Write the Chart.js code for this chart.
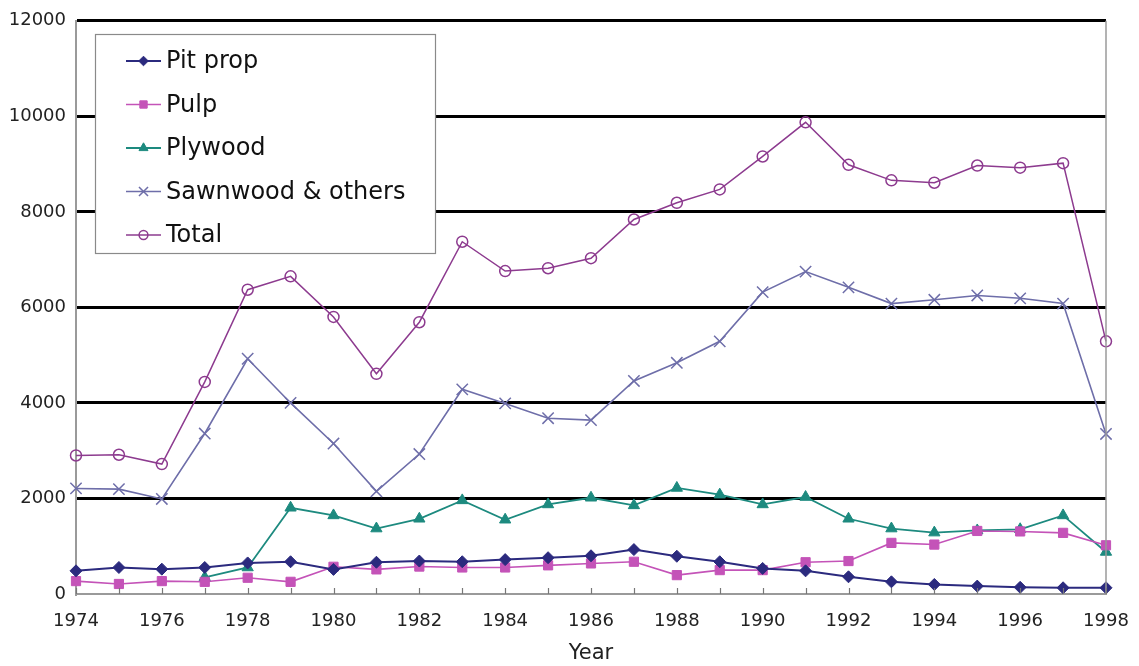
<!DOCTYPE html>
<html>
<head>
<meta charset="utf-8">
<script src="https://cdn.jsdelivr.net/npm/chart.js@4/dist/chart.umd.min.js"></script>
<style>
  html, body { margin: 0; padding: 0; background: #ffffff; }
  #wrap { width: 1139px; height: 666px; position: relative; }
</style>
</head>
<body>
<div id="wrap"><canvas id="c" width="1139" height="666"></canvas></div>
<script>
// Log output by product, 1974-1998
const years = ['1974','1975','1976','1977','1978','1979','1980','1981','1982','1983','1984','1985',
  '1986','1987','1988','1989','1990','1991','1992','1993','1994','1995','1996','1997','1998'];

const pitProp  = [485, 555, 520, 555, 650, 675, 515, 665, 690, 675, 720, 760,
  800, 930, 790, 675, 535, 485, 360, 255, 200, 165, 140, 130, 130];
const pulp     = [270, 210, 270, 255, 340, 255, 570, 515, 575, 555, 555, 600,
  640, 675, 395, 500, 500, 665, 690, 1070, 1035, 1320, 1310, 1280, 1020];
const plywood  = [null, null, null, 350, 555, 1805, 1645, 1370, 1575, 1960, 1555, 1875,
  2015, 1855, 2220, 2080, 1875, 2030, 1575, 1370, 1285, 1330, 1355, 1645, 880];
const sawnwood = [2210, 2195, 1990, 3360, 4925, 4000, 3150, 2150, 2930, 4285, 3990, 3680,
  3640, 4460, 4840, 5290, 6320, 6750, 6420, 6080, 6160, 6250, 6190, 6080, 3350];
const total    = [2900, 2915, 2720, 4440, 6370, 6650, 5800, 4610, 5690, 7375, 6760, 6820,
  7030, 7840, 8190, 8470, 9160, 9875, 8985, 8660, 8610, 8970, 8925, 9020, 5290];

const seriesNames = ['Pit prop', 'Pulp', 'Plywood', 'Sawnwood & others', 'Total'];
const yTicks = [0, 2000, 4000, 6000, 8000, 10000, 12000];

const FONT = '"DejaVu Sans", "Liberation Sans", sans-serif';
const TEXT = '#222222';
const AXIS = '#9a9a9a';

function series(label, data, color, style, radius, filled, width) {
  return {
    label, data,
    borderColor: color,
    backgroundColor: filled ? color : '#ffffff',
    borderWidth: width,
    pointStyle: style,
    pointRadius: radius,
    pointBorderWidth: filled ? 1 : 1.5,
    pointBorderColor: color,
    pointBackgroundColor: filled ? color : 'rgba(0,0,0,0)',
    pointHoverRadius: radius,
    tension: 0,
    spanGaps: false,
    fill: false
  };
}

const datasets = [
  series(seriesNames[0], pitProp,  '#2b2a7e', 'rectRot',  6, true, 2),
  series(seriesNames[1], pulp,     '#c453b8', 'rect',     6.5, true, 1.6),
  series(seriesNames[2], plywood,  '#1d8a7f', 'triangle', 6.5, true, 1.8),
  series(seriesNames[3], sawnwood, '#6e6ea9', 'crossRot', 8, false, 1.6),
  series(seriesNames[4], total,    '#8d3b8f', 'circle',   5.5, false, 1.5)
];

// Boxed legend inside the plot, plus year tick marks and the right frame edge
const decorations = {
  id: 'decorations',
  afterDatasetsDraw(chart) {
    const ctx = chart.ctx;
    const area = chart.chartArea;
    const xs = chart.scales.x;

    ctx.save();
    // right frame edge
    ctx.strokeStyle = AXIS;
    ctx.lineWidth = 1.5;
    ctx.beginPath();
    ctx.moveTo(area.right, area.top);
    ctx.lineTo(area.right, area.bottom);
    ctx.stroke();

    // inward tick marks, one per year
    ctx.lineWidth = 1.2;
    ctx.strokeStyle = '#777777';
    for (let i = 0; i < years.length; i++) {
      const px = Math.round(xs.getPixelForValue(i)) + 0.5;
      ctx.beginPath();
      ctx.moveTo(px, area.bottom);
      ctx.lineTo(px, area.bottom - 6);
      ctx.stroke();
    }

    // legend box
    const bx = 95, by = 34, bw = 340, bh = 219;
    ctx.fillStyle = '#ffffff';
    ctx.fillRect(bx, by, bw, bh);
    ctx.strokeStyle = '#8a8a8a';
    ctx.lineWidth = 1.2;
    ctx.strokeRect(bx + 0.5, by + 0.5, bw, bh);

    ctx.font = '24px ' + FONT;
    ctx.textBaseline = 'middle';
    ctx.textAlign = 'left';
    datasets.forEach((ds, i) => {
      const cy = 61 + i * 43.5;
      ctx.strokeStyle = ds.borderColor;
      ctx.lineWidth = ds.borderWidth;
      ctx.beginPath();
      ctx.moveTo(126, cy);
      ctx.lineTo(161, cy);
      ctx.stroke();
      ctx.fillStyle = ds.pointBackgroundColor;
      ctx.strokeStyle = ds.pointBorderColor;
      ctx.lineWidth = ds.pointBorderWidth;
      Chart.helpers.drawPoint(ctx, {
        pointStyle: ds.pointStyle,
        radius: ds.pointRadius * 0.8,
        rotation: 0,
        borderWidth: ds.pointBorderWidth
      }, 143.5, cy);
      ctx.fillStyle = '#111111';
      ctx.fillText(ds.label, 166, cy + 1);
    });
    ctx.restore();
  }
};

new Chart(document.getElementById('c'), {
  type: 'line',
  data: { labels: years, datasets },
  options: {
    responsive: false,
    animation: false,
    events: [],
    layout: { padding: { top: 18, right: 33, left: 0, bottom: 0 } },
    plugins: {
      legend: { display: false },
      tooltip: { enabled: false }
    },
    scales: {
      x: {
        type: 'category',
        offset: false,
        grid: { display: true, drawOnChartArea: false, drawTicks: false },
        border: { display: true, color: AXIS, width: 2 },
        ticks: {
          autoSkip: false,
          maxRotation: 0,
          padding: 17,
          color: TEXT,
          font: { family: FONT, size: 18 },
          callback: (v, i) => (i % 2 === 0 ? years[i] : '')
        },
        title: {
          display: true,
          text: 'Year',
          color: TEXT,
          font: { family: FONT, size: 21 },
          padding: { top: 6, bottom: 0 }
        },
        afterFit: (s) => { s.height = 72; s.paddingRight = 0; s.paddingLeft = 0; }
      },
      y: {
        min: 0,
        max: 12000,
        afterBuildTicks: (s) => { s.ticks = yTicks.map(v => ({ value: v })); },
        grid: {
          drawTicks: false,
          color: (c) => (c.tick && c.tick.value === 0 ? 'rgba(0,0,0,0)' : '#000000'),
          lineWidth: 3
        },
        border: { display: true, color: AXIS, width: 2 },
        ticks: {
          padding: 10,
          color: TEXT,
          font: { family: FONT, size: 18 },
          callback: (v) => String(v)
        },
        afterFit: (s) => { s.width = 76; }
      }
    }
  },
  plugins: [decorations]
});
</script>
</body>
</html>
